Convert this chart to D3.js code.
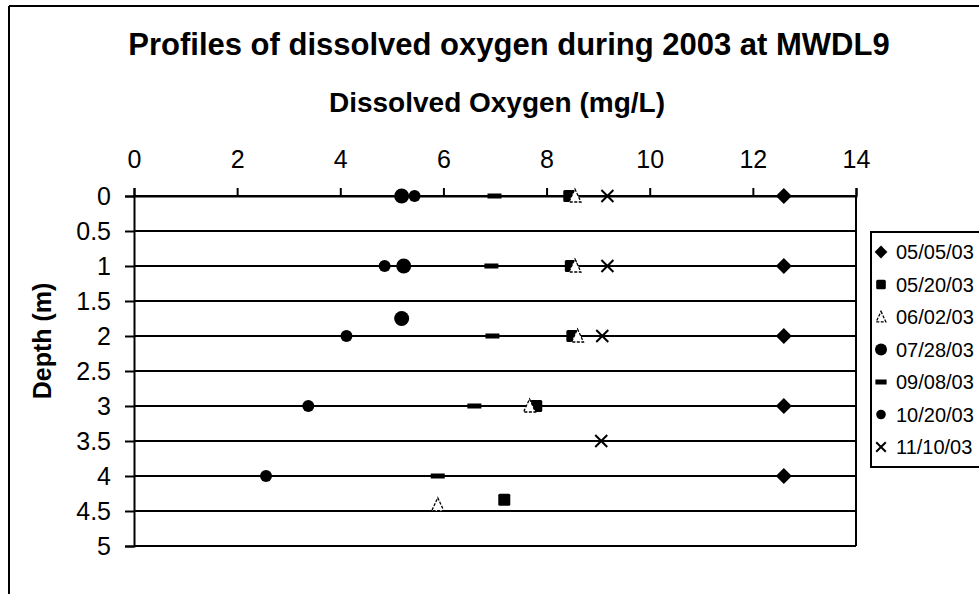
<!DOCTYPE html>
<html><head><meta charset="utf-8">
<script src="https://cdn.jsdelivr.net/npm/d3@7"></script>
<style>body{margin:0;background:#fff}svg{display:block}text{font-family:Arial,"Liberation Sans",sans-serif;fill:#000}</style>
</head><body><svg id="c" width="979" height="594"></svg>
<script>
const title = "Profiles of dissolved oxygen during 2003 at MWDL9";
const xTitle = "Dissolved Oxygen (mg/L)";
const yTitle = "Depth (m)";
const xTicks = [0,2,4,6,8,10,12,14];
const yTicks = [0,0.5,1,1.5,2,2.5,3,3.5,4,4.5,5];
const seriesNames = ["05/05/03","05/20/03","06/02/03","07/28/03","09/08/03","10/20/03","11/10/03"];
const symbols = ["diamond","square","triangle","bigcircle","dash","circle","cross"];
const do0505 = [12.6,12.6,12.6,12.6,12.6];
const dep0505 = [0,1,2,3,4];
const do0520 = [8.44,8.47,8.5,7.8,7.18];
const dep0520 = [0,1,2,3,4.34];
const do0602 = [8.55,8.55,8.6,7.67,5.89];
const dep0602 = [0,1,2,3,4.41];
const do0728 = [5.19,5.23,5.19];
const dep0728 = [0,1,1.75];
const do0908 = [6.99,6.93,6.95,6.6,5.89];
const dep0908 = [0,1,2,3,4];
const do1020 = [5.44,4.86,4.12,3.38,2.56];
const dep1020 = [0,1,2,3,4];
const do1110 = [9.18,9.18,9.08,9.06];
const dep1110 = [0,1,2,3.5];

const series = [
  {x:do0505,y:dep0505},{x:do0520,y:dep0520},{x:do0602,y:dep0602},
  {x:do0728,y:dep0728},{x:do0908,y:dep0908},{x:do1020,y:dep1020},{x:do1110,y:dep1110}
];

const svg = d3.select("#c");
const x = d3.scaleLinear().domain([0,14]).range([134,856]);
const y = d3.scaleLinear().domain([0,5]).range([196,546]);

// outer frame
svg.append("line").attr("x1",9).attr("y1",6).attr("x2",979).attr("y2",6).attr("stroke","#000").attr("stroke-width",2);
svg.append("line").attr("x1",9).attr("y1",6).attr("x2",9).attr("y2",594).attr("stroke","#000").attr("stroke-width",2);

// gridlines
svg.append("g").selectAll("line").data(yTicks).join("line")
  .attr("x1",x(0)).attr("x2",x(14)).attr("y1",d=>y(d)).attr("y2",d=>y(d))
  .attr("stroke","#000").attr("stroke-width",2);
// plot border right
svg.append("line").attr("x1",x(14)).attr("x2",x(14)).attr("y1",y(0)).attr("y2",y(5)).attr("stroke","#000").attr("stroke-width",2);

// axes
const xAxis = d3.axisTop(x).tickValues(xTicks).tickSize(8).tickPadding(20).tickFormat(d=>String(d));
const gx = svg.append("g").attr("transform",`translate(0,${y(0)})`).call(xAxis);
gx.select(".domain").attr("stroke-width",2);
gx.selectAll(".tick line").attr("stroke-width",2);
gx.selectAll("text").attr("font-size",25).attr("font-family","Arial, 'Liberation Sans', sans-serif");

const yAxis = d3.axisLeft(y).tickValues(yTicks).tickSize(9).tickPadding(14).tickFormat(d=>String(d));
const gy = svg.append("g").attr("transform",`translate(${x(0)},0)`).call(yAxis);
gy.select(".domain").attr("stroke-width",2);
gy.selectAll(".tick line").attr("stroke-width",2);
gy.selectAll("text").attr("font-size",25).attr("font-family","Arial, 'Liberation Sans', sans-serif");

// titles
svg.append("text").attr("x",509).attr("y",55).attr("text-anchor","middle").attr("font-size",31).attr("font-weight","bold").text(title);
svg.append("text").attr("x",497).attr("y",112).attr("text-anchor","middle").attr("font-size",28).attr("font-weight","bold").text(xTitle);
svg.append("text").attr("transform","translate(51,341) rotate(-90)").attr("text-anchor","middle").attr("font-size",25).attr("font-weight","bold").text(yTitle);

function drawSymbol(g, type, cx, cy, scale){
  const s = scale||1;
  if(type==="diamond"){
    const r = 8*s;
    g.append("path").attr("d",`M${cx},${cy-r}L${cx+r},${cy}L${cx},${cy+r}L${cx-r},${cy}Z`).attr("fill","#000");
  } else if(type==="square"){
    g.append("rect").attr("x",cx-6*s).attr("y",cy-6*s).attr("width",12*s).attr("height",12*s).attr("rx",1.5).attr("fill","#000");
  } else if(type==="triangle"){
    g.append("path").attr("d",`M${cx},${cy-7*s}L${cx+6*s},${cy+6*s}L${cx-6*s},${cy+6*s}Z`).attr("fill","#fff").attr("stroke","#000").attr("stroke-width",1.3).attr("stroke-dasharray","3,1.5");
  } else if(type==="bigcircle"){
    g.append("circle").attr("cx",cx).attr("cy",cy).attr("r",7.5*s).attr("fill","#000");
  } else if(type==="circle"){
    g.append("circle").attr("cx",cx).attr("cy",cy).attr("r",6*s).attr("fill","#000");
  } else if(type==="dash"){
    g.append("rect").attr("x",cx-7*s).attr("y",cy-2.5).attr("width",14*s).attr("height",5).attr("fill","#000");
  } else if(type==="cross"){
    g.append("path").attr("d",`M${cx-6*s},${cy-6*s}L${cx+6*s},${cy+6*s}M${cx+6*s},${cy-6*s}L${cx-6*s},${cy+6*s}`).attr("stroke","#000").attr("stroke-width",2);
  }
}

series.forEach((s,i)=>{
  const g = svg.append("g");
  s.x.forEach((v,j)=>drawSymbol(g, symbols[i], x(v), y(s.y[j])));
});

// legend
const lg = svg.append("g");
lg.append("rect").attr("x",871).attr("y",232).attr("width",120).attr("height",235).attr("fill","#fff").attr("stroke","#000").attr("stroke-width",2);
seriesNames.forEach((n,i)=>{
  const cy = 252 + i*32.5;
  drawSymbol(lg, symbols[i], 881, cy, 0.8);
  lg.append("text").attr("x",896).attr("y",cy+7).attr("font-size",20).text(n);
});
</script></body></html>
